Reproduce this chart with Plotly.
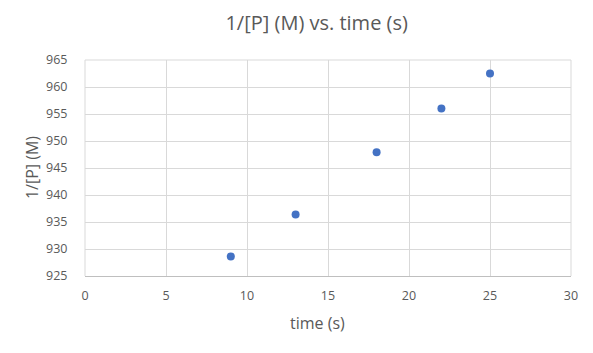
import plotly.graph_objects as go

time_s = [9, 13, 18, 22, 25]
inv_p = [928.6, 936.4, 947.9, 956.0, 962.5]

grey = "#595959"
fig = go.Figure()
fig.add_trace(go.Scatter(
    x=time_s, y=inv_p, mode="markers",
    marker=dict(size=8, color="#4472C4"),
    showlegend=False,
))
fig.update_layout(
    width=593, height=353,
    margin=dict(l=85, r=22, t=60, b=77),
    paper_bgcolor="white", plot_bgcolor="white",
    font=dict(family="Open Sans, Liberation Sans, sans-serif", color=grey, size=12),
    title=dict(text="1/[P] (M) vs. time (s)", x=0.534, xanchor="center",
               y=0.935, yanchor="middle",
               font=dict(size=20, color=grey)),
)
fig.update_xaxes(
    range=[0, 30], dtick=5, tick0=0,
    showgrid=True, gridcolor="#d9d9d9", gridwidth=1,
    showline=True, linecolor="#bfbfbf", linewidth=1,
    zeroline=False, ticks="", ticklabelstandoff=8,
    tickfont=dict(size=12.5, color=grey),
    automargin=False, fixedrange=True,
)
fig.update_yaxes(
    range=[925, 965], dtick=5, tick0=925,
    showgrid=True, gridcolor="#d9d9d9", gridwidth=1,
    showline=False, zeroline=False,
    ticks="outside", ticklen=14, tickcolor="rgba(255,255,255,0)",
    tickfont=dict(size=12.5, color=grey),
    automargin=False, fixedrange=True,
)
fig.add_annotation(text="time (s)", xref="paper", yref="paper", x=0.479, y=-0.218,
                   xanchor="center", yanchor="middle", showarrow=False,
                   font=dict(size=16, color=grey))
fig.add_annotation(text="1/[P] (M)", xref="paper", yref="paper", x=-0.109, y=0.5,
                   xanchor="center", yanchor="middle", showarrow=False, textangle=-90,
                   font=dict(size=16, color=grey))
fig.add_shape(type="line", xref="paper", yref="paper", x0=0, x1=1, y0=1, y1=1,
              line=dict(color="#d9d9d9", width=1))
fig.add_shape(type="line", xref="paper", yref="paper", x0=0, x1=0, y0=0, y1=1,
              line=dict(color="#d9d9d9", width=1))
fig.add_shape(type="line", xref="paper", yref="paper", x0=1, x1=1, y0=0, y1=1,
              line=dict(color="#d9d9d9", width=1))
fig.write_html("out.html")
